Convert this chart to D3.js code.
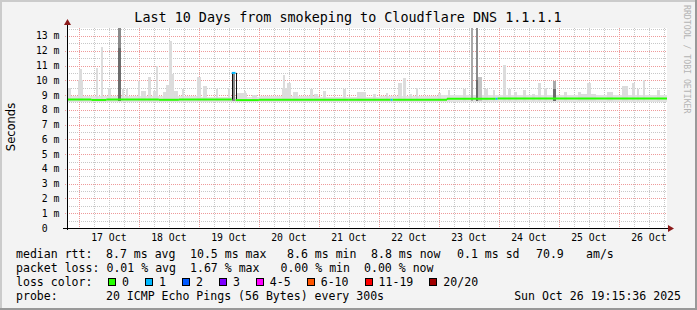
<!DOCTYPE html>
<html>
<head>
<meta charset="utf-8">
<script src="https://cdn.jsdelivr.net/npm/d3@7"></script>
<style>
  html, body { margin: 0; padding: 0; background: #f3f3f3; }
  svg { display: block; }
  text { font-family: "DejaVu Sans Mono", monospace; fill: #000; }
</style>
</head>
<body>
<div id="chart"></div>
<script>
// Tidsrom og akse
const endTime = "2025-10-26 19:15:36";
const spanDays = 10;
const yTicks = [0, 1, 2, 3, 4, 5, 6, 7, 8, 9, 10, 11, 12, 13];
const yMax = 13.54;

// Median rtt (ms) med antall tapte pakker per intervall
const medianTimes = ["10-16 19:15", "10-17 05:00", "10-17 11:00", "10-18 08:00", "10-18 16:00",
  "10-19 13:10", "10-19 14:40", "10-20 00:00", "10-21 12:00", "10-22 04:45", "10-22 05:30",
  "10-23 03:15", "10-23 22:45", "10-23 23:30", "10-26 19:15"];
const medianValues = [8.70, 8.67, 8.70, 8.68, 8.70, 10.5, 8.66, 8.68, 8.69, 8.68, 8.68, 8.75, 8.75, 8.76, 8.78];
const medianLoss = [0, 0, 0, 0, 0, 1, 0, 0, 0, 1, 0, 0, 1, 0, 0];

// Røyk: øvre kant på den jevne spredningen
const floorTimes = ["10-16 19:15", "10-17 00:00", "10-18 00:00", "10-19 00:00", "10-20 00:00", "10-21 00:00",
  "10-22 00:00", "10-23 00:00", "10-24 00:00", "10-25 00:00", "10-26 00:00", "10-26 19:15"];
const floorValues = [8.95, 8.95, 8.92, 8.9, 8.92, 8.9, 8.95, 9.0, 9.0, 9.0, 9.0, 9.0];

// Røyk: enkelttopper (midttid, topp i ms, skygge 0-4, varighet i timer)
const spikeTimes = ["10-16 20:15", "10-17 00:30", "10-17 00:40", "10-17 07:15", "10-17 09:15", "10-17 12:15",
  "10-17 16:15", "10-17 16:15", "10-17 17:30", "10-17 19:15", "10-18 00:00", "10-18 01:40", "10-18 04:15",
  "10-18 06:30", "10-18 07:15", "10-18 10:15", "10-18 12:15", "10-18 12:30", "10-18 13:40", "10-18 14:50",
  "10-18 17:30", "10-19 00:00", "10-19 02:30", "10-19 07:15", "10-19 12:00", "10-19 13:55", "10-19 17:15",
  "10-19 18:30", "10-19 22:15", "10-20 10:15", "10-20 10:15", "10-20 12:00", "10-20 14:30", "10-20 21:00",
  "10-20 22:50", "10-21 02:15", "10-21 10:15", "10-21 17:15", "10-21 22:15", "10-22 03:15", "10-22 08:30",
  "10-22 10:15", "10-22 12:30", "10-22 15:15", "10-23 00:15", "10-23 04:00", "10-23 10:15", "10-23 13:15",
  "10-23 15:15", "10-23 15:15", "10-23 16:30", "10-23 18:50", "10-23 22:00", "10-24 02:15", "10-24 04:15",
  "10-24 06:40", "10-24 10:15", "10-24 14:00", "10-24 16:15", "10-24 18:50", "10-24 22:15", "10-24 22:15",
  "10-25 02:30", "10-25 08:15", "10-25 12:00", "10-25 12:00", "10-25 20:30", "10-26 02:30", "10-26 06:00",
  "10-26 07:30", "10-26 10:00", "10-26 15:50"];
const spikeTops = [9.48, 10.76, 10.0, 10.8, 12.25, 9.5,
  14, 12.2, 9.4, 9.4, 9.95, 9.3, 10.2,
  9.3, 11.0, 9.2, 9.7, 12.65, 10.4, 9.3,
  9.4, 10.2, 9.6, 9.4, 9.5, 10.45, 9.15,
  9.3, 9.0, 9.5, 10.35, 9.8, 9.2, 9.4,
  9.1, 9.3, 9.4, 9.2, 9.1, 9.15, 9.8,
  10.15, 9.1, 9.5, 9.15, 9.35, 9.4, 14,
  14, 10.0, 10.2, 9.4, 9.35, 11.05, 9.4,
  9.2, 9.35, 9.1, 9.8, 9.5, 9.95, 9.4,
  9.2, 9.2, 9.8, 9.1, 9.2, 9.6, 9.8,
  9.4, 10.0, 9.35];
const spikeShade = [0, 0, 0, 0, 0, 0,
  3, 4, 0, 0, 0, 0, 0,
  0, 0, 0, 0, 0, 0, 0,
  0, 0, 0, 0, 0, 3, 0,
  0, 0, 0, 0, 0, 0, 0,
  0, 0, 0, 0, 0, 0, 0,
  0, 0, 0, 0, 0, 0, 2,
  3, 4, 1, 0, 0, 0, 0,
  0, 0, 0, 0, 0, 2, 4,
  0, 0, 0, 0, 0, 0, 0,
  0, 0, 0];
const spikeHours = [1.6, 1.2, 2.0, 1.0, 0.8, 1.2,
  1.0, 1.0, 0.8, 0.8, 0.8, 2.0, 1.2,
  1.6, 0.8, 1.2, 2.4, 1.2, 0.8, 1.6,
  0.8, 1.6, 1.6, 0.8, 0.8, 1.2, 4.0,
  0.8, 2.0, 2.0, 0.8, 1.6, 2.0, 1.2,
  1.6, 1.2, 1.2, 3.6, 1.2, 0.8, 1.6,
  1.2, 1.2, 0.8, 1.2, 0.8, 1.2, 0.8,
  0.8, 0.8, 1.6, 1.6, 0.8, 1.2, 1.2,
  1.2, 1.2, 1.2, 1.2, 1.2, 1.2, 1.2,
  1.2, 1.2, 1.6, 6.0, 2.4, 2.4, 1.2,
  0.8, 0.8, 1.2];

// Tapsfarger (legende)
const lossLabels = ["0", "1", "2", "3", "4-5", "6-10", "11-19", "20/20"];
const lossColors = ["#26ff00", "#00b8ff", "#0059ff", "#7e00ff", "#ff00ff", "#ff5500", "#ff0000", "#a10000"];

// Statistikk i legenden
const rttStats = ["8.7", "10.5", "8.6", "8.8", "0.1"];
const rttStatNames = ["avg", "max", "min", "now", "sd"];
const lossStats = ["0.01", "1.67", "0.00", "0.00"];
const lossStatNames = ["avg", "max", "min", "now"];
const amsValue = "70.9";

const W = 697, H = 310;
const pLeft = 67, pRight = 667, pTop = 28, pBottom = 228;

const parseFull = d3.timeParse("%Y-%m-%d %H:%M:%S");
const parseT = d3.timeParse("%Y-%m-%d %H:%M");
const t = s => parseT("2025-" + s);

const end = parseFull(endTime);
const start = d3.timeDay.offset(end, -spanDays);

const x = d3.scaleTime().domain([start, end]).range([pLeft, pRight]);
const y = d3.scaleLinear().domain([0, yMax]).range([pBottom, pTop]);

const svg = d3.select("#chart").append("svg")
    .attr("width", W)
    .attr("height", H);

// Bakgrunn og 3D-kant
svg.append("rect").attr("width", W).attr("height", H).attr("fill", "#f3f3f3");
svg.append("rect").attr("x", 0).attr("y", 0).attr("width", W).attr("height", 2).attr("fill", "#cbcbcb");
svg.append("rect").attr("x", 0).attr("y", 0).attr("width", 2).attr("height", H).attr("fill", "#cbcbcb");
svg.append("rect").attr("x", 0).attr("y", H - 2).attr("width", W).attr("height", 2).attr("fill", "#999");
svg.append("rect").attr("x", W - 2).attr("y", 0).attr("width", 2).attr("height", H).attr("fill", "#999");

// Plottområde
svg.append("rect")
    .attr("x", pLeft).attr("y", pTop)
    .attr("width", pRight - pLeft).attr("height", pBottom - pTop)
    .attr("fill", "#fff");

svg.append("clipPath").attr("id", "plotClip")
    .append("rect")
    .attr("x", pLeft).attr("y", pTop)
    .attr("width", pRight - pLeft).attr("height", pBottom - pTop);

// Rutenett
const grid = svg.append("g").attr("shape-rendering", "crispEdges");
const minorY = d3.range(0.5, yMax, 1);
grid.selectAll(".minorY").data(minorY).enter().append("line")
    .attr("x1", pLeft).attr("x2", pRight)
    .attr("y1", d => Math.round(y(d)) + 0.5).attr("y2", d => Math.round(y(d)) + 0.5)
    .attr("stroke", "#c8c8c8").attr("stroke-dasharray", "1,1");

const midnights = d3.timeDay.range(start, end);
const sixHours = d3.timeHour.every(6).range(start, end).filter(d => d.getHours() !== 0);
grid.selectAll(".minorX").data(sixHours).enter().append("line")
    .attr("x1", d => Math.round(x(d)) + 0.5).attr("x2", d => Math.round(x(d)) + 0.5)
    .attr("y1", pTop).attr("y2", pBottom)
    .attr("stroke", "#c8c8c8").attr("stroke-dasharray", "1,1");

grid.selectAll(".majorY").data(yTicks.slice(1)).enter().append("line")
    .attr("x1", pLeft - 2).attr("x2", pRight)
    .attr("y1", d => Math.round(y(d)) + 0.5).attr("y2", d => Math.round(y(d)) + 0.5)
    .attr("stroke", "#ee9a9a").attr("stroke-dasharray", "1,1");

grid.selectAll(".majorX").data(midnights).enter().append("line")
    .attr("x1", d => Math.round(x(d)) + 0.5).attr("x2", d => Math.round(x(d)) + 0.5)
    .attr("y1", pTop).attr("y2", pBottom + 2)
    .attr("stroke", "#ee9a9a").attr("stroke-dasharray", "1,1");

// Røyk
const plot = svg.append("g").attr("clip-path", "url(#plotClip)").attr("shape-rendering", "crispEdges");
const shadeColors = ["#dcdcdc", "#c4c4c4", "#a8a8a8", "#8a8a8a", "#6c6c6c"];

const floorData = floorTimes.map((s, i) => ({
    t: i === 0 ? start : (i === floorTimes.length - 1 ? end : t(s)), v: floorValues[i]
}));
const floorArea = d3.area()
    .x(d => x(d.t))
    .y0(y(8.55))
    .y1(d => y(d.v))
    .curve(d3.curveStepAfter);
plot.append("path").datum(floorData).attr("d", floorArea).attr("fill", "#e2e2e2");

const spikes = spikeTimes.map((s, i) => ({
    t: t(s), top: spikeTops[i], shade: spikeShade[i], hours: spikeHours[i]
})).sort((a, b) => a.shade - b.shade);

plot.selectAll(".spike").data(spikes).enter().append("rect")
    .attr("x", d => x(d3.timeMinute.offset(d.t, -d.hours * 30)))
    .attr("width", d => Math.max(1, x(d3.timeMinute.offset(d.t, d.hours * 30)) - x(d3.timeMinute.offset(d.t, -d.hours * 30))))
    .attr("y", d => y(d.top))
    .attr("height", d => y(8.6) - y(d.top))
    .attr("fill", d => shadeColors[d.shade]);

// Median, farget etter tap
const med = medianTimes.map((s, i) => ({
    t: i === 0 ? start : (i === medianTimes.length - 1 ? end : t(s)),
    v: medianValues[i], loss: medianLoss[i]
}));
const segs = med.slice(0, -1).map((d, i) => ({ t0: d.t, t1: med[i + 1].t, v: d.v, loss: d.loss, next: med[i + 1].v }));

const medG = svg.append("g").attr("clip-path", "url(#plotClip)");
// store vertikale sprang i svart
medG.selectAll(".jump").data(segs.filter(d => Math.abs(d.next - d.v) > 0.3)).enter().append("line")
    .attr("x1", d => Math.round(x(d.t1)) + 0.5).attr("x2", d => Math.round(x(d.t1)) + 0.5)
    .attr("y1", d => y(d.v)).attr("y2", d => y(d.next))
    .attr("stroke", "#111").attr("stroke-width", 1);
// små sprang i grønt
medG.selectAll(".step").data(segs.filter(d => Math.abs(d.next - d.v) <= 0.3 && d.next !== d.v)).enter().append("line")
    .attr("x1", d => x(d.t1)).attr("x2", d => x(d.t1))
    .attr("y1", d => y(d.v)).attr("y2", d => y(d.next))
    .attr("stroke", lossColors[0]).attr("stroke-width", 2);
medG.selectAll(".seg").data(segs).enter().append("line")
    .attr("x1", d => x(d.t0)).attr("x2", d => x(d.t1))
    .attr("y1", d => y(d.v)).attr("y2", d => y(d.v))
    .attr("stroke", d => lossColors[d.loss])
    .attr("stroke-width", 2);

// Akser
const axes = svg.append("g").attr("shape-rendering", "crispEdges");
axes.append("line").attr("x1", pLeft - 4).attr("x2", pRight + 2).attr("y1", pBottom + 0.5).attr("y2", pBottom + 0.5)
    .attr("stroke", "#000");
axes.append("line").attr("x1", pLeft + 0.5).attr("x2", pLeft + 0.5).attr("y1", pBottom + 2).attr("y2", pTop - 4)
    .attr("stroke", "#000");
svg.append("path")
    .attr("d", `M${pRight + 1},${pBottom - 3}L${pRight + 7},${pBottom + 0.5}L${pRight + 1},${pBottom + 4}Z`)
    .attr("fill", "#8b1a1a");
svg.append("path")
    .attr("d", `M${pLeft - 3},${pTop - 3}L${pLeft + 0.5},${pTop - 9}L${pLeft + 4},${pTop - 3}Z`)
    .attr("fill", "#8b1a1a");

// Y-etiketter
svg.selectAll(".ylab").data(yTicks).enter().append("text")
    .attr("x", 59.5)
    .attr("y", d => y(d) + 3.5)
    .attr("text-anchor", "end")
    .style("white-space", "pre")
    .style("font-size", "9.8px")
    .text(d => d === 0 ? "0  " : d + " m");

// X-etiketter (midt på dagen)
const fmt = d3.timeFormat("%d %b");
svg.selectAll(".xlab").data(midnights).enter().append("text")
    .attr("x", d => x(d3.timeHour.offset(d, 12)))
    .attr("y", 241)
    .attr("text-anchor", "middle")
    .style("font-size", "9.8px")
    .text(d => fmt(d));

// Tittel
svg.append("text")
    .attr("x", 348).attr("y", 22)
    .attr("text-anchor", "middle")
    .style("font-size", "13.4px")
    .text("Last 10 Days from smokeping to Cloudflare DNS 1.1.1.1");

svg.append("text")
    .attr("transform", "translate(15,127) rotate(-90)")
    .attr("text-anchor", "middle")
    .style("font-family", "'DejaVu Sans', sans-serif")
    .style("font-size", "11.5px")
    .text("Seconds");

svg.append("text")
    .attr("transform", "translate(684,5) rotate(90)")
    .style("font-size", "8.2px")
    .style("fill", "#b4b4b4")
    .text("RRDTOOL / TOBI OETIKER");

// Legende
const lf = "11.55px";
const cw = 6.96;
function put(str, px, py) {
    svg.append("text").attr("x", px).attr("y", py)
        .style("font-size", lf).style("white-space", "pre").text(str);
}
put("median rtt:", 16, 258);
const rttX = [106, 190, 287, 371, 457];
rttStats.forEach((v, i) => put(`${v} ms ${rttStatNames[i]}`, rttX[i], 258));
put(amsValue, 536, 258);
put("am/s", 586, 258);

put("packet loss:", 16, 272);
lossStats.forEach((v, i) => put(`${v} % ${lossStatNames[i]}`, 16 + [13, 25, 38, 50][i] * cw, 272));

put("loss color:", 16, 286);
let bx = 108;
lossLabels.forEach((lab, i) => {
    svg.append("rect")
        .attr("x", bx + 0.5).attr("y", 278.5)
        .attr("width", 7).attr("height", 7)
        .attr("fill", lossColors[i])
        .attr("stroke", "#000")
        .attr("shape-rendering", "crispEdges");
    put(lab, bx + 14, 286);
    bx = bx + 14 + lab.length * cw + 16;
});

put("probe:", 16, 300);
put("20 ICMP Echo Pings (56 Bytes) every 300s", 106, 300);
svg.append("text").attr("x", 681).attr("y", 300)
    .attr("text-anchor", "end")
    .style("font-size", lf)
    .text(d3.timeFormat("%a %b %d %H:%M:%S %Y")(end));
</script>
</body>
</html>
